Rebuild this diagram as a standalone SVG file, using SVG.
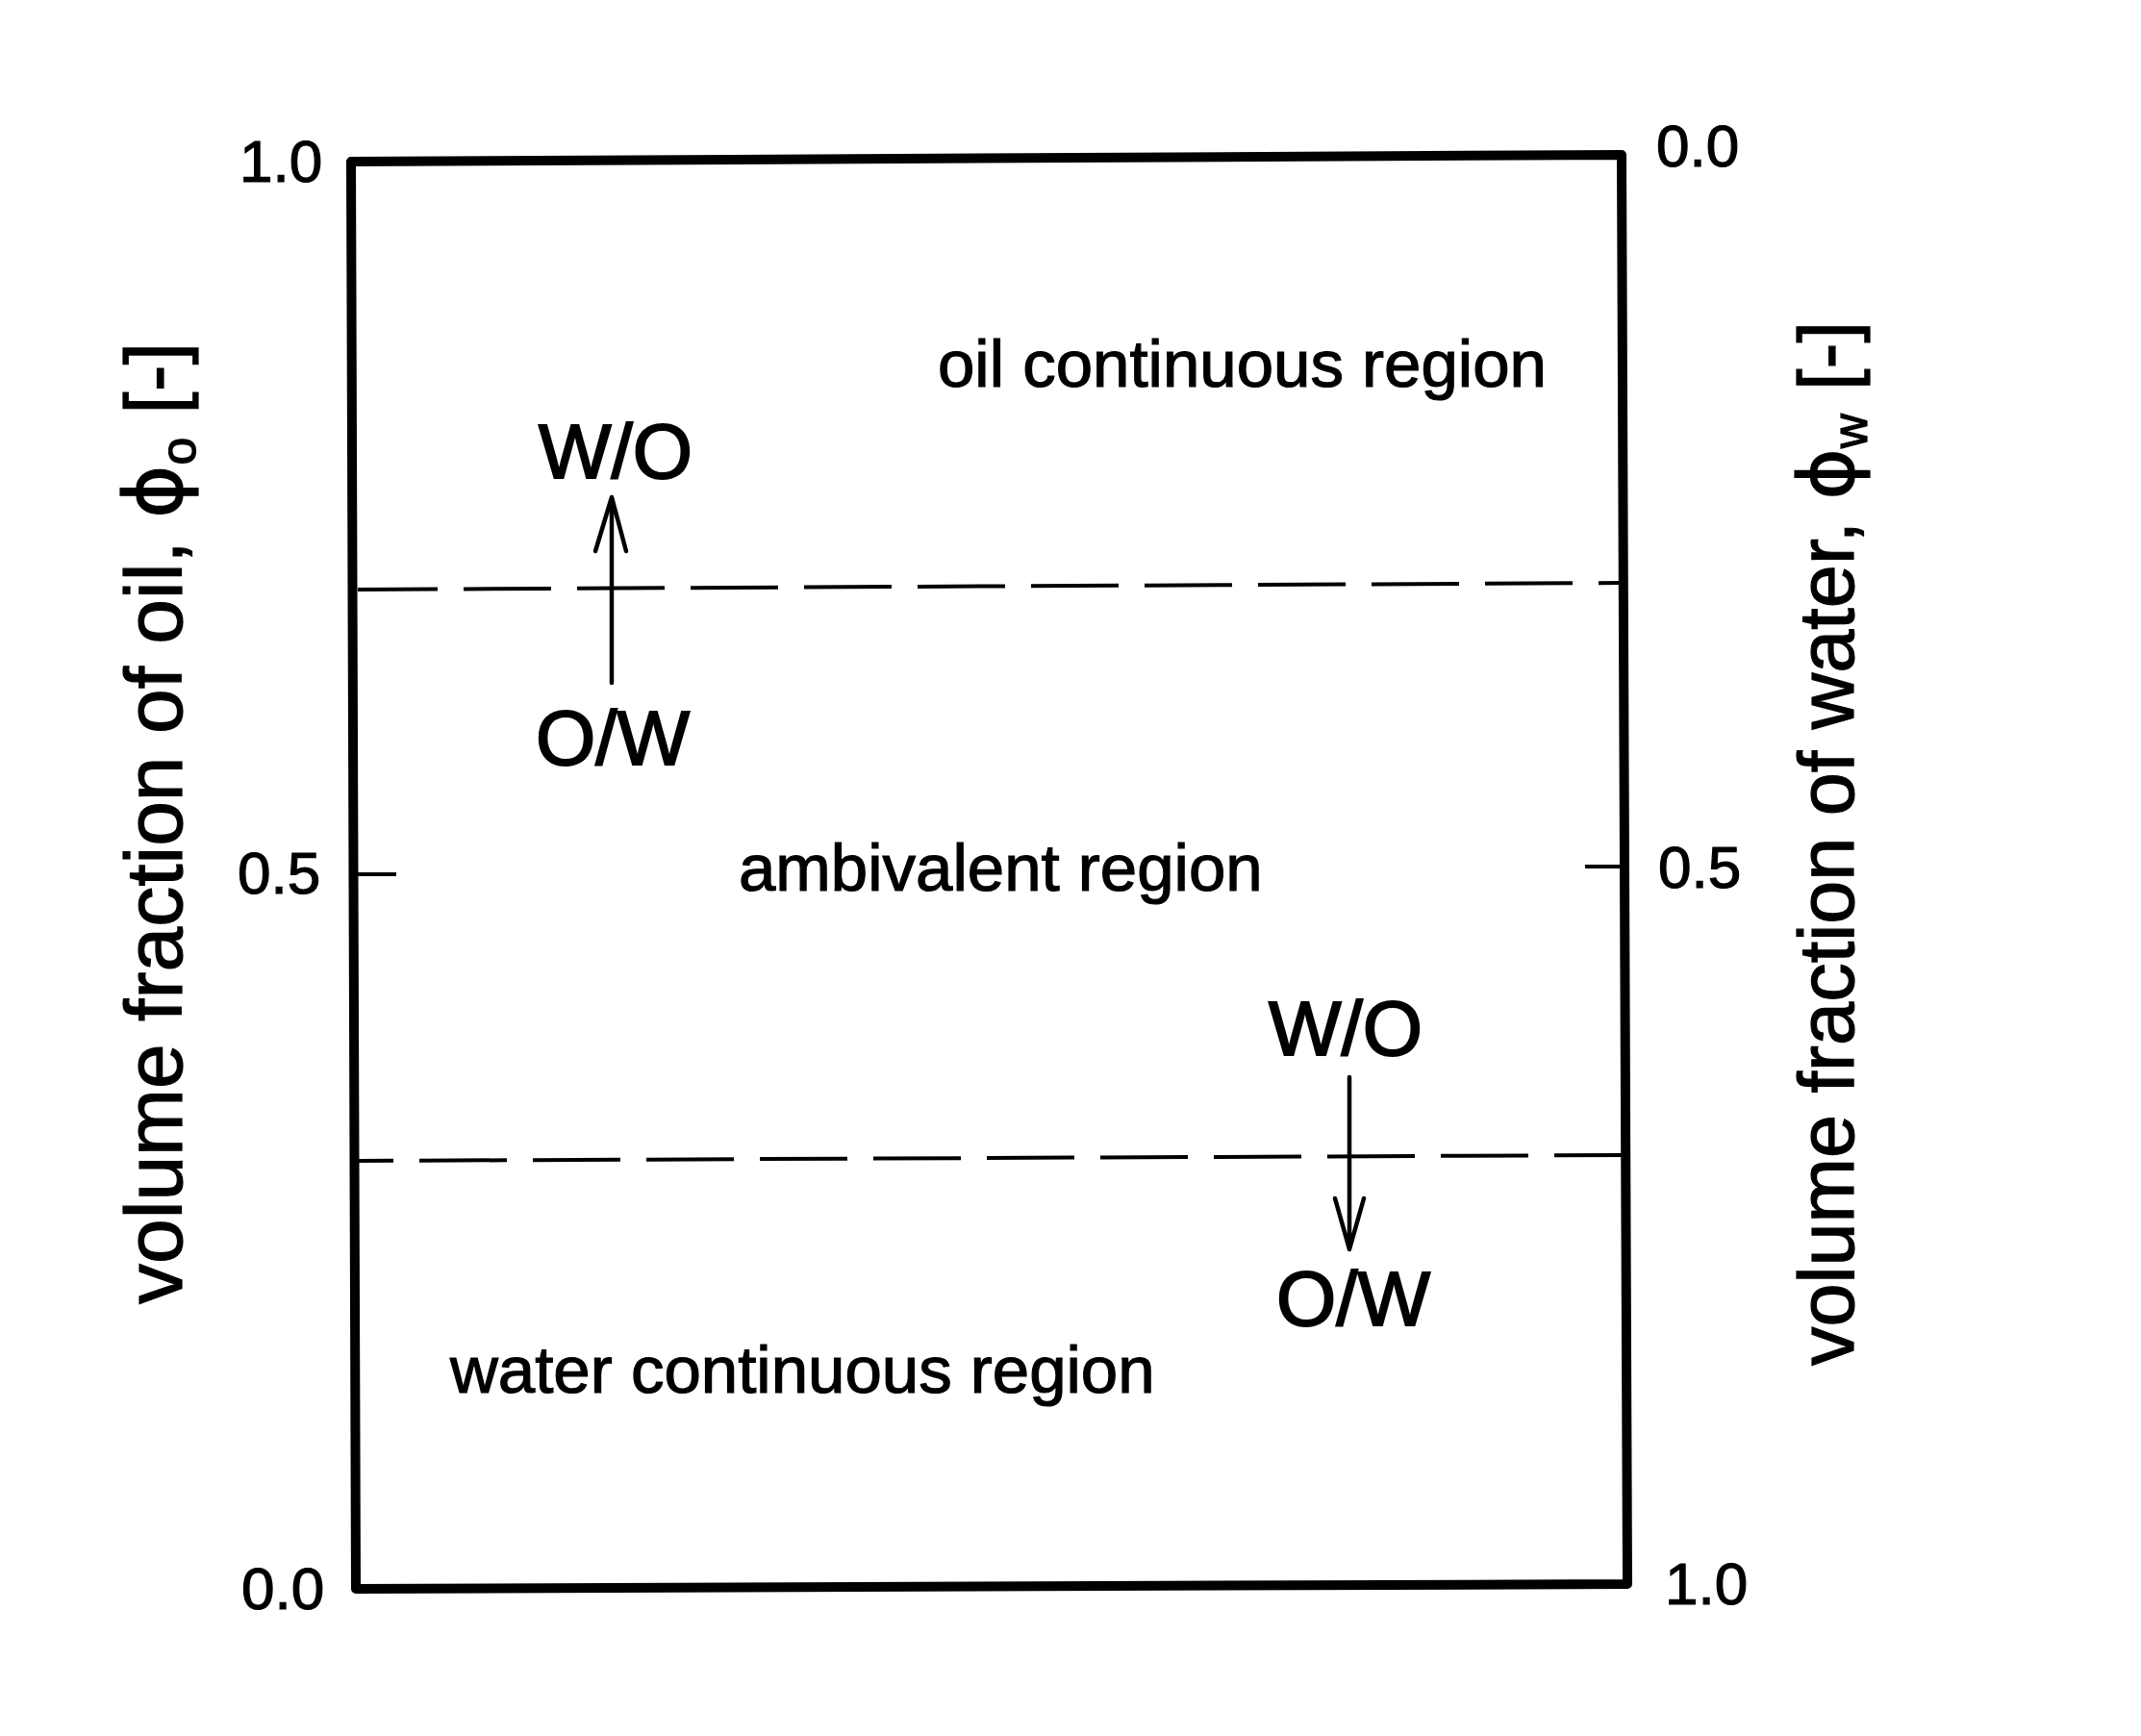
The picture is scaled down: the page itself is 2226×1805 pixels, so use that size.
<svg xmlns="http://www.w3.org/2000/svg" width="2226" height="1805" viewBox="0 0 2226 1805">
<style>
text{font-family:"Liberation Sans",Arial,sans-serif;fill:#000;stroke:#000;stroke-width:1.2}
.tick{font-size:62px}
.region{font-size:69px}
.emul{font-size:80px;text-anchor:middle;stroke-width:2}
.axis{font-size:84px}
.dash{fill:none;stroke:#000;stroke-width:4;stroke-dasharray:91 27}
.arr{fill:none;stroke:#000;stroke-width:4.5;stroke-linecap:round;stroke-linejoin:round}
</style>
<rect width="2226" height="1805" fill="#fff"/>
<g id="frame">
<path d="M365,168 L1686,161 L1692,1647 L370,1652 Z" fill="none" stroke="#000" stroke-width="10" stroke-linejoin="round"/>
<line x1="365" y1="909" x2="412" y2="909" stroke="#000" stroke-width="4"/>
<line x1="1648" y1="901" x2="1688" y2="901" stroke="#000" stroke-width="4"/>
</g>
<g id="left-axis">
<text class="tick" x="249" y="189">1.0</text>
<text class="tick" x="247" y="929">0.5</text>
<text class="tick" x="251" y="1673">0.0</text>
<text class="axis" transform="translate(189,1356) rotate(-90)">volume fraction of oil, <tspan font-family="DejaVu Sans">ϕ</tspan><tspan font-size="52" dy="14">o</tspan><tspan dx="24" dy="-14">[-]</tspan></text>
</g>
<g id="right-axis">
<text class="tick" x="1722" y="173">0.0</text>
<text class="tick" x="1724" y="923">0.5</text>
<text class="tick" x="1731" y="1668">1.0</text>
<text class="axis" font-size="81" transform="translate(1927,1420) rotate(-90)" style="font-size:81px">volume fraction of water, <tspan font-family="DejaVu Sans">ϕ</tspan><tspan font-size="50" dy="14">w</tspan><tspan dx="24" dy="-14">[-]</tspan></text>
</g>
<g id="boundary-upper">
<line class="dash" x1="372" y1="613" x2="1686" y2="606" stroke-dashoffset="8"/>
</g>
<g id="boundary-lower">
<line class="dash" x1="372" y1="1207" x2="1690" y2="1201" stroke-dashoffset="54"/>
</g>
<g id="oil-region"><text class="region" x="975" y="402">oil continuous region</text></g>
<g id="ambivalent-region"><text class="region" x="768" y="926">ambivalent region</text></g>
<g id="water-region"><text class="region" x="468" y="1448">water continuous region</text></g>
<g id="wo-upper"><text class="emul" x="640" y="497">W/O</text></g>
<g id="ow-upper"><text class="emul" x="637" y="795">O/W</text></g>
<g id="wo-lower"><text class="emul" x="1399" y="1097">W/O</text></g>
<g id="ow-lower"><text class="emul" x="1407" y="1378">O/W</text></g>
<g id="connectors">
<path class="arr" d="M636,710 L636,517 M619,573 L636,517 L651,573"/>
<path class="arr" d="M1403,1120 L1403,1299 M1388,1246 L1403,1299 L1418,1246"/>
</g>
</svg>
